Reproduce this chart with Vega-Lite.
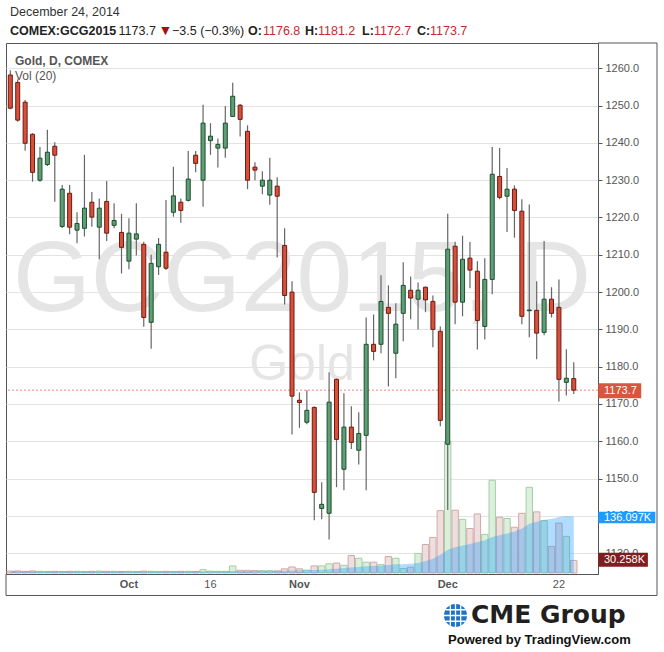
{
  "$schema": "https://vega.github.io/schema/vega-lite/v6.json",
  "width": 592,
  "height": 531,
  "autosize": {"type": "none"},
  "padding": {"left": 6, "top": 43, "right": 66, "bottom": 78},
  "background": "#ffffff",
  "config": {
    "font": "Liberation Sans",
    "view": {"stroke": "#555555", "strokeWidth": 1}
  },
  "datasets": {
    "one": [{}],
    "months": [{"i": 16, "t": "Oct"}, {"i": 39, "t": "Nov"}, {"i": 59, "t": "Dec"}],
    "days": [{"i": 27, "t": "16"}, {"i": 74, "t": "22"}],
    "ohlc": [
      {"i":0,"d":"2014-09-09","o":1258.2,"h":1259.5,"l":1249.0,"c":1249.3,"v":4500,"ma":4200},
      {"i":1,"d":"2014-09-10","o":1256.2,"h":1257.0,"l":1245.7,"c":1246.1,"v":5000,"ma":4200},
      {"i":2,"d":"2014-09-11","o":1250.9,"h":1251.5,"l":1237.9,"c":1239.9,"v":4000,"ma":4200},
      {"i":3,"d":"2014-09-12","o":1242.3,"h":1242.6,"l":1229.6,"c":1232.1,"v":5000,"ma":4200},
      {"i":4,"d":"2014-09-15","o":1230.0,"h":1238.9,"l":1229.6,"c":1235.9,"v":4000,"ma":4200},
      {"i":5,"d":"2014-09-16","o":1234.2,"h":1243.5,"l":1233.8,"c":1237.5,"v":3500,"ma":4200},
      {"i":6,"d":"2014-09-17","o":1239.1,"h":1240.2,"l":1224.2,"c":1236.7,"v":4000,"ma":4200},
      {"i":7,"d":"2014-09-18","o":1217.6,"h":1228.7,"l":1217.2,"c":1227.6,"v":3500,"ma":4200},
      {"i":8,"d":"2014-09-19","o":1226.5,"h":1228.7,"l":1215.5,"c":1217.4,"v":4000,"ma":4200},
      {"i":9,"d":"2014-09-22","o":1216.6,"h":1221.4,"l":1213.1,"c":1218.4,"v":4000,"ma":4200},
      {"i":10,"d":"2014-09-23","o":1217.1,"h":1236.8,"l":1214.9,"c":1222.5,"v":3500,"ma":4100},
      {"i":11,"d":"2014-09-24","o":1224.1,"h":1226.8,"l":1217.5,"c":1220.1,"v":4000,"ma":4100},
      {"i":12,"d":"2014-09-25","o":1217.4,"h":1225.1,"l":1208.8,"c":1222.5,"v":4500,"ma":4100},
      {"i":13,"d":"2014-09-26","o":1224.3,"h":1229.8,"l":1213.7,"c":1215.8,"v":4000,"ma":4100},
      {"i":14,"d":"2014-09-29","o":1217.9,"h":1223.8,"l":1217.1,"c":1219.2,"v":4000,"ma":4100},
      {"i":15,"d":"2014-09-30","o":1216.0,"h":1221.0,"l":1205.0,"c":1212.0,"v":3500,"ma":4100},
      {"i":16,"d":"2014-10-01","o":1208.3,"h":1219.8,"l":1206.1,"c":1215.8,"v":4000,"ma":4100},
      {"i":17,"d":"2014-10-02","o":1214.2,"h":1223.8,"l":1209.8,"c":1215.6,"v":3500,"ma":4100},
      {"i":18,"d":"2014-10-03","o":1212.8,"h":1213.5,"l":1190.7,"c":1193.2,"v":4500,"ma":4100},
      {"i":19,"d":"2014-10-06","o":1191.9,"h":1210.0,"l":1184.8,"c":1207.7,"v":4000,"ma":4100},
      {"i":20,"d":"2014-10-07","o":1206.8,"h":1214.5,"l":1204.6,"c":1212.8,"v":3500,"ma":4100},
      {"i":21,"d":"2014-10-08","o":1210.7,"h":1224.7,"l":1205.9,"c":1206.4,"v":4000,"ma":4000},
      {"i":22,"d":"2014-10-09","o":1221.4,"h":1233.6,"l":1220.2,"c":1225.8,"v":3500,"ma":4000},
      {"i":23,"d":"2014-10-10","o":1224.1,"h":1225.1,"l":1218.6,"c":1221.9,"v":4000,"ma":4000},
      {"i":24,"d":"2014-10-13","o":1224.6,"h":1237.8,"l":1224.3,"c":1230.3,"v":4000,"ma":4000},
      {"i":25,"d":"2014-10-14","o":1236.7,"h":1237.8,"l":1232.1,"c":1234.5,"v":3500,"ma":4000},
      {"i":26,"d":"2014-10-15","o":1230.0,"h":1250.2,"l":1222.9,"c":1245.3,"v":8000,"ma":4200},
      {"i":27,"d":"2014-10-16","o":1240.6,"h":1245.3,"l":1236.8,"c":1241.8,"v":4500,"ma":4200},
      {"i":28,"d":"2014-10-17","o":1238.6,"h":1241.2,"l":1233.4,"c":1239.6,"v":4000,"ma":4200},
      {"i":29,"d":"2014-10-20","o":1238.6,"h":1249.9,"l":1236.0,"c":1245.3,"v":4000,"ma":4200},
      {"i":30,"d":"2014-10-21","o":1247.1,"h":1256.1,"l":1247.0,"c":1252.5,"v":17000,"ma":4800},
      {"i":31,"d":"2014-10-22","o":1250.1,"h":1250.4,"l":1241.7,"c":1246.3,"v":6500,"ma":4900},
      {"i":32,"d":"2014-10-23","o":1243.1,"h":1244.7,"l":1227.6,"c":1230.0,"v":6500,"ma":5000},
      {"i":33,"d":"2014-10-24","o":1233.5,"h":1234.8,"l":1230.0,"c":1232.7,"v":6000,"ma":5100},
      {"i":34,"d":"2014-10-27","o":1228.4,"h":1232.4,"l":1226.2,"c":1230.0,"v":5500,"ma":5200},
      {"i":35,"d":"2014-10-28","o":1226.0,"h":1236.0,"l":1223.4,"c":1230.0,"v":5500,"ma":5300},
      {"i":36,"d":"2014-10-29","o":1228.4,"h":1230.8,"l":1209.3,"c":1225.7,"v":5000,"ma":5300},
      {"i":37,"d":"2014-10-30","o":1212.5,"h":1217.1,"l":1196.7,"c":1199.1,"v":10000,"ma":5600},
      {"i":38,"d":"2014-10-31","o":1200.0,"h":1202.9,"l":1161.8,"c":1172.1,"v":14500,"ma":6200},
      {"i":39,"d":"2014-11-03","o":1171.0,"h":1173.1,"l":1163.6,"c":1170.4,"v":10000,"ma":6500},
      {"i":40,"d":"2014-11-04","o":1165.1,"h":1173.7,"l":1164.6,"c":1168.3,"v":7000,"ma":6600},
      {"i":41,"d":"2014-11-05","o":1169.1,"h":1169.3,"l":1138.8,"c":1146.3,"v":17000,"ma":7300},
      {"i":42,"d":"2014-11-06","o":1142.0,"h":1149.0,"l":1139.1,"c":1143.1,"v":17000,"ma":8000},
      {"i":43,"d":"2014-11-07","o":1140.7,"h":1178.5,"l":1133.7,"c":1170.5,"v":22000,"ma":9000},
      {"i":44,"d":"2014-11-10","o":1176.6,"h":1176.8,"l":1147.7,"c":1160.5,"v":24000,"ma":10500},
      {"i":45,"d":"2014-11-11","o":1152.5,"h":1172.9,"l":1146.9,"c":1163.8,"v":18500,"ma":12000},
      {"i":46,"d":"2014-11-12","o":1163.8,"h":1169.4,"l":1157.9,"c":1159.7,"v":42000,"ma":13500},
      {"i":47,"d":"2014-11-13","o":1157.6,"h":1167.8,"l":1153.8,"c":1162.1,"v":35500,"ma":14500},
      {"i":48,"d":"2014-11-14","o":1161.6,"h":1193.2,"l":1146.9,"c":1186.0,"v":26000,"ma":16000},
      {"i":49,"d":"2014-11-17","o":1186.0,"h":1194.0,"l":1181.7,"c":1184.1,"v":26000,"ma":17000},
      {"i":50,"d":"2014-11-18","o":1186.0,"h":1204.5,"l":1183.6,"c":1197.5,"v":20000,"ma":17500},
      {"i":51,"d":"2014-11-19","o":1195.9,"h":1201.8,"l":1174.7,"c":1194.3,"v":39500,"ma":19000},
      {"i":52,"d":"2014-11-20","o":1183.6,"h":1197.0,"l":1176.9,"c":1191.4,"v":35500,"ma":21000},
      {"i":53,"d":"2014-11-21","o":1194.3,"h":1208.0,"l":1186.8,"c":1201.8,"v":11000,"ma":21000},
      {"i":54,"d":"2014-11-24","o":1200.5,"h":1204.2,"l":1192.7,"c":1198.4,"v":14000,"ma":22000},
      {"i":55,"d":"2014-11-25","o":1198.1,"h":1202.6,"l":1190.0,"c":1200.5,"v":47000,"ma":24000},
      {"i":56,"d":"2014-11-26","o":1201.3,"h":1201.5,"l":1194.6,"c":1197.9,"v":68500,"ma":29000},
      {"i":57,"d":"2014-11-27","o":1197.5,"h":1199.1,"l":1185.2,"c":1190.0,"v":85500,"ma":34500},
      {"i":58,"d":"2014-11-28","o":1189.5,"h":1190.8,"l":1164.0,"c":1165.6,"v":150000,"ma":44000},
      {"i":59,"d":"2014-12-01","o":1159.2,"h":1221.0,"l":1141.6,"c":1211.5,"v":317000,"ma":56000},
      {"i":60,"d":"2014-12-02","o":1212.3,"h":1213.5,"l":1191.4,"c":1197.3,"v":151000,"ma":62000},
      {"i":61,"d":"2014-12-03","o":1197.3,"h":1215.1,"l":1193.5,"c":1208.8,"v":129000,"ma":66000},
      {"i":62,"d":"2014-12-04","o":1209.1,"h":1213.4,"l":1201.0,"c":1205.9,"v":107000,"ma":70000},
      {"i":63,"d":"2014-12-05","o":1205.6,"h":1208.3,"l":1184.6,"c":1192.4,"v":142000,"ma":74500},
      {"i":64,"d":"2014-12-08","o":1190.8,"h":1209.1,"l":1187.3,"c":1203.4,"v":93000,"ma":78500},
      {"i":65,"d":"2014-12-09","o":1203.4,"h":1238.9,"l":1199.4,"c":1231.6,"v":223000,"ma":86500},
      {"i":66,"d":"2014-12-10","o":1231.0,"h":1238.6,"l":1224.9,"c":1225.4,"v":134000,"ma":91000},
      {"i":67,"d":"2014-12-11","o":1225.7,"h":1233.3,"l":1216.1,"c":1227.6,"v":131000,"ma":95000},
      {"i":68,"d":"2014-12-12","o":1227.6,"h":1228.6,"l":1214.6,"c":1221.9,"v":110000,"ma":100000},
      {"i":69,"d":"2014-12-15","o":1221.7,"h":1224.9,"l":1191.4,"c":1193.5,"v":143500,"ma":107000},
      {"i":70,"d":"2014-12-16","o":1195.0,"h":1223.5,"l":1187.9,"c":1195.2,"v":206000,"ma":118500},
      {"i":71,"d":"2014-12-17","o":1195.1,"h":1202.9,"l":1182.0,"c":1189.0,"v":147000,"ma":123000},
      {"i":72,"d":"2014-12-18","o":1189.2,"h":1213.7,"l":1188.4,"c":1198.1,"v":126000,"ma":128000},
      {"i":73,"d":"2014-12-19","o":1198.1,"h":1201.3,"l":1193.2,"c":1194.3,"v":64000,"ma":130000},
      {"i":74,"d":"2014-12-22","o":1195.9,"h":1203.4,"l":1170.7,"c":1176.6,"v":120000,"ma":134500},
      {"i":75,"d":"2014-12-23","o":1175.8,"h":1184.7,"l":1172.3,"c":1176.9,"v":88000,"ma":137000},
      {"i":76,"d":"2014-12-24","o":1176.8,"h":1181.2,"l":1172.7,"c":1173.7,"v":30258,"ma":136097}
    ]
  },
  "resolve": {"scale": {"y": "independent"}},
  "layer": [
    {
      "data": {"name": "ohlc"},
      "mark": {"type": "rule", "color": "#6a6a6a", "strokeWidth": 1.2},
      "encoding": {
        "x": {
          "field": "i", "type": "quantitative",
          "scale": {"domain": [-0.58, 79.27], "nice": false, "zero": false, "padding": 0},
          "axis": {
            "orient": "bottom", "values": [16, 27, 39, 59, 74], "title": null, "labels": false,
            "grid": true, "gridColor": "#e3e3e3", "gridWidth": 1,
            "domainColor": "#555555", "domainWidth": 1, "ticks": false
          }
        },
        "y": {
          "field": "l", "type": "quantitative",
          "scale": {"domain": [1124.42, 1266.78], "nice": false, "zero": false},
          "axis": {
            "orient": "right", "values": [1130, 1140, 1150, 1160, 1170, 1180, 1190, 1200, 1210, 1220, 1230, 1240, 1250, 1260],
            "format": ".1f", "title": null,
            "grid": true, "gridColor": "#e3e3e3", "gridWidth": 1,
            "domainColor": "#555555", "domainWidth": 1,
            "tickColor": "#555555", "tickSize": 4,
            "labelColor": "#555555", "labelFontSize": 11, "labelPadding": 3
          }
        },
        "y2": {"field": "h"},
        "opacity": {"value": 0}
      }
    },
    {
      "data": {"name": "months"},
      "mark": {"type": "text", "fontSize": 11, "fontWeight": "bold", "align": "center", "baseline": "alphabetic", "fill": "#555555"},
      "encoding": {
        "text": {"field": "t"},
        "x": {"field": "i", "type": "quantitative", "scale": {"domain": [-0.58, 79.27], "nice": false, "zero": false, "padding": 0}, "axis": null},
        "y": {"datum": 1120.54, "type": "quantitative", "scale": {"domain": [1124.42, 1266.78], "nice": false, "zero": false}, "axis": null}
      }
    },
    {
      "data": {"name": "days"},
      "mark": {"type": "text", "fontSize": 11, "align": "center", "baseline": "alphabetic", "fill": "#555555"},
      "encoding": {
        "text": {"field": "t"},
        "x": {"field": "i", "type": "quantitative", "scale": {"domain": [-0.58, 79.27], "nice": false, "zero": false, "padding": 0}, "axis": null},
        "y": {"datum": 1120.54, "type": "quantitative", "scale": {"domain": [1124.42, 1266.78], "nice": false, "zero": false}, "axis": null}
      }
    },
    {
      "data": {"name": "one"},
      "mark": {"type": "text", "text": "GCG2015, D", "fontSize": 100, "align": "center", "baseline": "alphabetic", "fill": "#e5e5e5"},
      "encoding": {
        "x": {"datum": 39.35, "type": "quantitative", "scale": {"domain": [-0.58, 79.27], "nice": false, "zero": false, "padding": 0}, "axis": null},
        "y": {"datum": 1194.93, "type": "quantitative", "scale": {"domain": [1124.42, 1266.78], "nice": false, "zero": false}, "axis": null}
      }
    },
    {
      "data": {"name": "one"},
      "mark": {"type": "text", "text": "Gold", "fontSize": 50, "align": "center", "baseline": "alphabetic", "fill": "#e5e5e5"},
      "encoding": {
        "x": {"datum": 39.35, "type": "quantitative", "scale": {"domain": [-0.58, 79.27], "nice": false, "zero": false, "padding": 0}, "axis": null},
        "y": {"datum": 1176.43, "type": "quantitative", "scale": {"domain": [1124.42, 1266.78], "nice": false, "zero": false}, "axis": null}
      }
    },
    {
      "data": {"name": "ohlc"},
      "mark": {"type": "bar", "size": 6.4, "strokeWidth": 1},
      "encoding": {
        "x": {"field": "i", "type": "quantitative", "scale": {"domain": [-0.58, 79.27], "nice": false, "zero": false, "padding": 0}, "axis": null},
        "y": {"field": "v", "type": "quantitative", "scale": {"domain": [-2400, 1274000], "nice": false, "zero": false}, "axis": null},
        "fill": {"condition": {"test": "datum.c >= datum.o", "value": "#dcefdc"}, "value": "#efdede"},
        "stroke": {"condition": {"test": "datum.c >= datum.o", "value": "#a3cfa3"}, "value": "#d0a9a9"}
      }
    },
    {
      "data": {"name": "ohlc"},
      "mark": {"type": "area", "color": "#1e9bff", "opacity": 0.35},
      "encoding": {
        "x": {"field": "i", "type": "quantitative", "scale": {"domain": [-0.58, 79.27], "nice": false, "zero": false, "padding": 0}, "axis": null},
        "y": {"field": "ma", "type": "quantitative", "scale": {"domain": [-2400, 1274000], "nice": false, "zero": false}, "axis": null}
      }
    },
    {
      "data": {"name": "one"},
      "mark": {"type": "rule", "color": "#ee8a78", "strokeWidth": 1, "strokeDash": [2, 2]},
      "encoding": {
        "y": {"datum": 1173.7, "type": "quantitative", "scale": {"domain": [1124.42, 1266.78], "nice": false, "zero": false}, "axis": null}
      }
    },
    {
      "data": {"name": "ohlc"},
      "mark": {"type": "rule", "color": "#666666", "strokeWidth": 1.2},
      "encoding": {
        "x": {"field": "i", "type": "quantitative", "scale": {"domain": [-0.58, 79.27], "nice": false, "zero": false, "padding": 0}, "axis": null},
        "y": {"field": "l", "type": "quantitative", "scale": {"domain": [1124.42, 1266.78], "nice": false, "zero": false}, "axis": null},
        "y2": {"field": "h"}
      }
    },
    {
      "data": {"name": "ohlc"},
      "mark": {"type": "bar", "size": 4, "strokeWidth": 1},
      "encoding": {
        "x": {"field": "i", "type": "quantitative", "scale": {"domain": [-0.58, 79.27], "nice": false, "zero": false, "padding": 0}, "axis": null},
        "y": {"field": "o", "type": "quantitative", "scale": {"domain": [1124.42, 1266.78], "nice": false, "zero": false}, "axis": null},
        "y2": {"field": "c"},
        "fill": {"condition": {"test": "datum.c >= datum.o", "value": "#5f9f77"}, "value": "#d6503b"},
        "stroke": {"condition": {"test": "datum.c >= datum.o", "value": "#1d4d2b"}, "value": "#6e1a10"}
      }
    },
    {
      "data": {"name": "one"},
      "mark": {"type": "rule", "color": "#555555", "strokeWidth": 1},
      "encoding": {
        "x": {"datum": 87.23, "type": "quantitative", "scale": {"domain": [-0.58, 79.27], "nice": false, "zero": false, "padding": 0}, "axis": null},
        "y": {"datum": 1266.78, "type": "quantitative", "scale": {"domain": [1124.42, 1266.78], "nice": false, "zero": false}, "axis": null},
        "y2": {"datum": 1118.66}
      }
    },
    {
      "data": {"name": "one"},
      "mark": {"type": "rule", "color": "#555555", "strokeWidth": 1},
      "encoding": {
        "x": {"datum": -0.58, "type": "quantitative", "scale": {"domain": [-0.58, 79.27], "nice": false, "zero": false, "padding": 0}, "axis": null},
        "x2": {"datum": 87.23},
        "y": {"datum": 1118.66, "type": "quantitative", "scale": {"domain": [1124.42, 1266.78], "nice": false, "zero": false}, "axis": null}
      }
    },
    {
      "data": {"name": "one"},
      "mark": {"type": "rule", "color": "#555555", "strokeWidth": 1},
      "encoding": {
        "x": {"datum": 79.27, "type": "quantitative", "scale": {"domain": [-0.58, 79.27], "nice": false, "zero": false, "padding": 0}, "axis": null},
        "x2": {"datum": 87.23},
        "y": {"datum": 1266.78, "type": "quantitative", "scale": {"domain": [1124.42, 1266.78], "nice": false, "zero": false}, "axis": null}
      }
    },
    {
      "data": {"name": "one"},
      "mark": {"type": "rule", "color": "#555555", "strokeWidth": 1},
      "encoding": {
        "x": {"datum": -0.58, "type": "quantitative", "scale": {"domain": [-0.58, 79.27], "nice": false, "zero": false, "padding": 0}, "axis": null},
        "y": {"datum": 1124.42, "type": "quantitative", "scale": {"domain": [1124.42, 1266.78], "nice": false, "zero": false}, "axis": null},
        "y2": {"datum": 1118.66}
      }
    },
    {
      "data": {"name": "one"},
      "mark": {"type": "rect", "fill": "#1e9bff"},
      "encoding": {
        "x": {"datum": 79.31, "type": "quantitative", "scale": {"domain": [-0.58, 79.27], "nice": false, "zero": false, "padding": 0}, "axis": null},
        "x2": {"datum": 87.0},
        "y": {"datum": 119500, "type": "quantitative", "scale": {"domain": [-2400, 1274000], "nice": false, "zero": false}, "axis": null},
        "y2": {"datum": 147400}
      }
    },
    {
      "data": {"name": "one"},
      "mark": {"type": "text", "text": "136.097K", "fontSize": 11, "align": "left", "baseline": "middle", "fill": "#ffffff"},
      "encoding": {
        "x": {"datum": 80.08, "type": "quantitative", "scale": {"domain": [-0.58, 79.27], "nice": false, "zero": false, "padding": 0}, "axis": null},
        "y": {"datum": 133400, "type": "quantitative", "scale": {"domain": [-2400, 1274000], "nice": false, "zero": false}, "axis": null}
      }
    },
    {
      "data": {"name": "one"},
      "mark": {"type": "rect", "fill": "#7e1e1e"},
      "encoding": {
        "x": {"datum": 79.31, "type": "quantitative", "scale": {"domain": [-0.58, 79.27], "nice": false, "zero": false, "padding": 0}, "axis": null},
        "x2": {"datum": 86.0},
        "y": {"datum": 15100, "type": "quantitative", "scale": {"domain": [-2400, 1274000], "nice": false, "zero": false}, "axis": null},
        "y2": {"datum": 48800}
      }
    },
    {
      "data": {"name": "one"},
      "mark": {"type": "text", "text": "30.258K", "fontSize": 11, "align": "left", "baseline": "middle", "fill": "#ffffff"},
      "encoding": {
        "x": {"datum": 80.08, "type": "quantitative", "scale": {"domain": [-0.58, 79.27], "nice": false, "zero": false, "padding": 0}, "axis": null},
        "y": {"datum": 32000, "type": "quantitative", "scale": {"domain": [-2400, 1274000], "nice": false, "zero": false}, "axis": null}
      }
    },
    {
      "data": {"name": "one"},
      "mark": {"type": "rect", "fill": "#d8553f"},
      "encoding": {
        "x": {"datum": 79.31, "type": "quantitative", "scale": {"domain": [-0.58, 79.27], "nice": false, "zero": false, "padding": 0}, "axis": null},
        "x2": {"datum": 85.1},
        "y": {"datum": 1171.55, "type": "quantitative", "scale": {"domain": [1124.42, 1266.78], "nice": false, "zero": false}, "axis": null},
        "y2": {"datum": 1175.55}
      }
    },
    {
      "data": {"name": "one"},
      "mark": {"type": "text", "text": "1173.7", "fontSize": 11, "align": "left", "baseline": "middle", "fill": "#ffffff"},
      "encoding": {
        "x": {"datum": 80.08, "type": "quantitative", "scale": {"domain": [-0.58, 79.27], "nice": false, "zero": false, "padding": 0}, "axis": null},
        "y": {"datum": 1173.55, "type": "quantitative", "scale": {"domain": [1124.42, 1266.78], "nice": false, "zero": false}, "axis": null}
      }
    },
    {
      "data": {"name": "one"},
      "mark": {"type": "text", "text": "December 24, 2014", "fontSize": 12.5, "align": "left", "baseline": "alphabetic", "fill": "#333333"},
      "encoding": {
        "x": {"datum": -0.04, "type": "quantitative", "scale": {"domain": [-0.58, 79.27], "nice": false, "zero": false, "padding": 0}, "axis": null},
        "y": {"datum": 1273.89, "type": "quantitative", "scale": {"domain": [1124.42, 1266.78], "nice": false, "zero": false}, "axis": null}
      }
    },
    {
      "data": {"name": "one"},
      "mark": {"type": "text", "text": "COMEX:GCG2015", "fontSize": 12.5, "fontWeight": "bold", "align": "left", "baseline": "alphabetic", "fill": "#222222"},
      "encoding": {
        "x": {"datum": -0.04, "type": "quantitative", "scale": {"domain": [-0.58, 79.27], "nice": false, "zero": false, "padding": 0}, "axis": null},
        "y": {"datum": 1269.0, "type": "quantitative", "scale": {"domain": [1124.42, 1266.78], "nice": false, "zero": false}, "axis": null}
      }
    },
    {
      "data": {"name": "one"},
      "mark": {"type": "text", "text": "1173.7", "fontSize": 12.5, "align": "left", "baseline": "alphabetic", "fill": "#222222"},
      "encoding": {
        "x": {"datum": 14.6, "type": "quantitative", "scale": {"domain": [-0.58, 79.27], "nice": false, "zero": false, "padding": 0}, "axis": null},
        "y": {"datum": 1269.0, "type": "quantitative", "scale": {"domain": [1124.42, 1266.78], "nice": false, "zero": false}, "axis": null}
      }
    },
    {
      "data": {"name": "one"},
      "mark": {"type": "text", "text": "▼", "fontSize": 14, "align": "left", "baseline": "alphabetic", "fill": "#a01010"},
      "encoding": {
        "x": {"datum": 20.0, "type": "quantitative", "scale": {"domain": [-0.58, 79.27], "nice": false, "zero": false, "padding": 0}, "axis": null},
        "y": {"datum": 1269.0, "type": "quantitative", "scale": {"domain": [1124.42, 1266.78], "nice": false, "zero": false}, "axis": null}
      }
    },
    {
      "data": {"name": "one"},
      "mark": {"type": "text", "text": "−3.5 (−0.3%)", "fontSize": 12.5, "align": "left", "baseline": "alphabetic", "fill": "#222222"},
      "encoding": {
        "x": {"datum": 21.81, "type": "quantitative", "scale": {"domain": [-0.58, 79.27], "nice": false, "zero": false, "padding": 0}, "axis": null},
        "y": {"datum": 1269.0, "type": "quantitative", "scale": {"domain": [1124.42, 1266.78], "nice": false, "zero": false}, "axis": null}
      }
    },
    {
      "data": {"name": "one"},
      "mark": {"type": "text", "text": "O:", "fontSize": 12.5, "fontWeight": "bold", "align": "left", "baseline": "alphabetic", "fill": "#222222"},
      "encoding": {
        "x": {"datum": 32.06, "type": "quantitative", "scale": {"domain": [-0.58, 79.27], "nice": false, "zero": false, "padding": 0}, "axis": null},
        "y": {"datum": 1269.0, "type": "quantitative", "scale": {"domain": [1124.42, 1266.78], "nice": false, "zero": false}, "axis": null}
      }
    },
    {
      "data": {"name": "one"},
      "mark": {"type": "text", "text": "1176.8", "fontSize": 12.5, "align": "left", "baseline": "alphabetic", "fill": "#c42b2b"},
      "encoding": {
        "x": {"datum": 34.08, "type": "quantitative", "scale": {"domain": [-0.58, 79.27], "nice": false, "zero": false, "padding": 0}, "axis": null},
        "y": {"datum": 1269.0, "type": "quantitative", "scale": {"domain": [1124.42, 1266.78], "nice": false, "zero": false}, "axis": null}
      }
    },
    {
      "data": {"name": "one"},
      "mark": {"type": "text", "text": "H:", "fontSize": 12.5, "fontWeight": "bold", "align": "left", "baseline": "alphabetic", "fill": "#222222"},
      "encoding": {
        "x": {"datum": 39.75, "type": "quantitative", "scale": {"domain": [-0.58, 79.27], "nice": false, "zero": false, "padding": 0}, "axis": null},
        "y": {"datum": 1269.0, "type": "quantitative", "scale": {"domain": [1124.42, 1266.78], "nice": false, "zero": false}, "axis": null}
      }
    },
    {
      "data": {"name": "one"},
      "mark": {"type": "text", "text": "1181.2", "fontSize": 12.5, "align": "left", "baseline": "alphabetic", "fill": "#c42b2b"},
      "encoding": {
        "x": {"datum": 41.5, "type": "quantitative", "scale": {"domain": [-0.58, 79.27], "nice": false, "zero": false, "padding": 0}, "axis": null},
        "y": {"datum": 1269.0, "type": "quantitative", "scale": {"domain": [1124.42, 1266.78], "nice": false, "zero": false}, "axis": null}
      }
    },
    {
      "data": {"name": "one"},
      "mark": {"type": "text", "text": "L:", "fontSize": 12.5, "fontWeight": "bold", "align": "left", "baseline": "alphabetic", "fill": "#222222"},
      "encoding": {
        "x": {"datum": 47.44, "type": "quantitative", "scale": {"domain": [-0.58, 79.27], "nice": false, "zero": false, "padding": 0}, "axis": null},
        "y": {"datum": 1269.0, "type": "quantitative", "scale": {"domain": [1124.42, 1266.78], "nice": false, "zero": false}, "axis": null}
      }
    },
    {
      "data": {"name": "one"},
      "mark": {"type": "text", "text": "1172.7", "fontSize": 12.5, "align": "left", "baseline": "alphabetic", "fill": "#c42b2b"},
      "encoding": {
        "x": {"datum": 49.05, "type": "quantitative", "scale": {"domain": [-0.58, 79.27], "nice": false, "zero": false, "padding": 0}, "axis": null},
        "y": {"datum": 1269.0, "type": "quantitative", "scale": {"domain": [1124.42, 1266.78], "nice": false, "zero": false}, "axis": null}
      }
    },
    {
      "data": {"name": "one"},
      "mark": {"type": "text", "text": "C:", "fontSize": 12.5, "fontWeight": "bold", "align": "left", "baseline": "alphabetic", "fill": "#222222"},
      "encoding": {
        "x": {"datum": 54.86, "type": "quantitative", "scale": {"domain": [-0.58, 79.27], "nice": false, "zero": false, "padding": 0}, "axis": null},
        "y": {"datum": 1269.0, "type": "quantitative", "scale": {"domain": [1124.42, 1266.78], "nice": false, "zero": false}, "axis": null}
      }
    },
    {
      "data": {"name": "one"},
      "mark": {"type": "text", "text": "1173.7", "fontSize": 12.5, "align": "left", "baseline": "alphabetic", "fill": "#c42b2b"},
      "encoding": {
        "x": {"datum": 56.61, "type": "quantitative", "scale": {"domain": [-0.58, 79.27], "nice": false, "zero": false, "padding": 0}, "axis": null},
        "y": {"datum": 1269.0, "type": "quantitative", "scale": {"domain": [1124.42, 1266.78], "nice": false, "zero": false}, "axis": null}
      }
    },
    {
      "data": {"name": "one"},
      "mark": {"type": "text", "text": "Gold, D, COMEX", "fontSize": 12, "fontWeight": "bold", "align": "left", "baseline": "alphabetic", "fill": "#555555"},
      "encoding": {
        "x": {"datum": 0.63, "type": "quantitative", "scale": {"domain": [-0.58, 79.27], "nice": false, "zero": false, "padding": 0}, "axis": null},
        "y": {"datum": 1260.88, "type": "quantitative", "scale": {"domain": [1124.42, 1266.78], "nice": false, "zero": false}, "axis": null}
      }
    },
    {
      "data": {"name": "one"},
      "mark": {"type": "text", "text": "Vol (20)", "fontSize": 12, "align": "left", "baseline": "alphabetic", "fill": "#555555"},
      "encoding": {
        "x": {"datum": 0.63, "type": "quantitative", "scale": {"domain": [-0.58, 79.27], "nice": false, "zero": false, "padding": 0}, "axis": null},
        "y": {"datum": 1256.73, "type": "quantitative", "scale": {"domain": [1124.42, 1266.78], "nice": false, "zero": false}, "axis": null}
      }
    },
    {
      "data": {"name": "one"},
      "mark": {"type": "point", "shape": "circle", "size": 529, "filled": true, "fill": "#1f72c4", "opacity": 1},
      "encoding": {
        "x": {"datum": 60.05, "type": "quantitative", "scale": {"domain": [-0.58, 79.27], "nice": false, "zero": false, "padding": 0}, "axis": null},
        "y": {"datum": 1113.3, "type": "quantitative", "scale": {"domain": [1124.42, 1266.78], "nice": false, "zero": false}, "axis": null}
      }
    },
    {
      "data": {"name": "one"},
      "mark": {"type": "point", "shape": "M-1,0L1,0M-0.87,-0.5L0.87,-0.5M-0.87,0.5L0.87,0.5M0,-1L0,1M-0.45,-0.9L-0.45,0.9M0.45,-0.9L0.45,0.9", "size": 529, "filled": false, "stroke": "#ffffff", "strokeWidth": 1.3, "opacity": 1},
      "encoding": {
        "x": {"datum": 60.05, "type": "quantitative", "scale": {"domain": [-0.58, 79.27], "nice": false, "zero": false, "padding": 0}, "axis": null},
        "y": {"datum": 1113.3, "type": "quantitative", "scale": {"domain": [1124.42, 1266.78], "nice": false, "zero": false}, "axis": null}
      }
    },
    {
      "data": {"name": "one"},
      "mark": {"type": "text", "text": "CME Group", "font": "DejaVu Sans", "fontSize": 25, "fontWeight": "bold", "align": "left", "baseline": "alphabetic", "fill": "#231f20"},
      "encoding": {
        "x": {"datum": 62.14, "type": "quantitative", "scale": {"domain": [-0.58, 79.27], "nice": false, "zero": false, "padding": 0}, "axis": null},
        "y": {"datum": 1111.15, "type": "quantitative", "scale": {"domain": [1124.42, 1266.78], "nice": false, "zero": false}, "axis": null}
      }
    },
    {
      "data": {"name": "one"},
      "mark": {"type": "text", "text": "Powered by TradingView.com", "fontSize": 13, "fontWeight": "bold", "align": "left", "baseline": "alphabetic", "fill": "#111111"},
      "encoding": {
        "x": {"datum": 59.04, "type": "quantitative", "scale": {"domain": [-0.58, 79.27], "nice": false, "zero": false, "padding": 0}, "axis": null},
        "y": {"datum": 1105.66, "type": "quantitative", "scale": {"domain": [1124.42, 1266.78], "nice": false, "zero": false}, "axis": null}
      }
    }
  ]
}
